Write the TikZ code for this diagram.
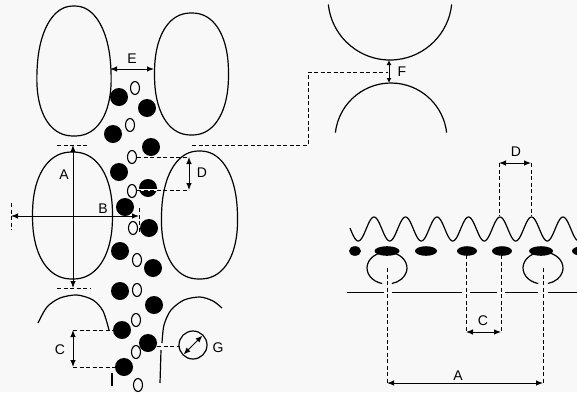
\documentclass[tikz,border=0pt]{standalone}
\usepackage{fontspec}
\setmainfont{Liberation Sans}
\usetikzlibrary{arrows.meta}
\definecolor{paper}{RGB}{248,248,248}
% closed cell outline: superellipse centred at (#1,#2), radii #3 and #4, widening #5 towards the bottom
\newcommand\cellblob[5]{%
  \draw[cell] plot[domain=0:360, samples=145, variable=\t]
    ({#1+#3*cos(\t)*(1+#5*sin(\t))/((abs(cos(\t))+0.0001)^2.25+(abs(sin(\t))+0.0001)^2.25)^(1/2.25)},
     {#2+#4*sin(\t)/((abs(cos(\t))+0.0001)^2.25+(abs(sin(\t))+0.0001)^2.25)^(1/2.25)}) -- cycle;}
\begin{document}
\begin{tikzpicture}[x=1pt,y=-1pt,
  cell/.style={line width=1.2pt, line join=round},
  guide/.style={line width=0.9pt, dash pattern=on 4pt off 2.5pt},
  dimarrow/.style={line width=1pt, {Latex[length=7pt,width=5.5pt]}-{Latex[length=7pt,width=5.5pt]}},
  smallarrow/.style={line width=1pt, {Latex[length=5pt,width=5pt]}-{Latex[length=5pt,width=5pt]}},
  lbl/.style={font=\fontsize{14}{14}\selectfont, inner sep=0pt},
  ring/.style={line width=1.1pt},
]
\fill[paper] (0,0) rectangle (577,392);
\useasboundingbox (0,0) rectangle (577,392);

% ---------- left panel: cells ----------
\cellblob{74}{71}{37}{65}{0.07}
\cellblob{191.5}{74}{37}{61}{0}
\cellblob{72.5}{215.5}{40}{63.5}{0}
\cellblob{199.5}{215}{38}{64}{0.04}
\draw[cell] plot[smooth] coordinates {(38,323) (47,307) (60,298) (77,295) (93,300) (103,311) (109,330)};
\draw[cell] (112,373) -- (112,386);
\draw[cell] plot[smooth] coordinates {(162,343) (164,325) (171,310) (184,300) (200,297) (213,301) (222,308)};
\draw[cell] (161,350) -- (160,383);

% ---------- left panel: particles in the channel ----------
\foreach \x/\y in {119/97, 147/108, 113/134, 151/147, 119/172, 148/188, 125/207, 149/228,
                   120/251, 153/268, 120/291, 154/305, 122/330, 148/343, 124/367}
  \fill (\x,\y) circle[radius=9];
\foreach \x/\y in {135/88, 130/125, 132/157, 132/191, 133/228, 137/260, 137/290, 136/320, 136/352, 138/385}
  \draw[ring] (\x,\y) ellipse[x radius=4.5, y radius=6.5];

% ---------- left panel: dimensions ----------
% A
\coordinate (aT) at (73,145); \coordinate (aB) at (73,288);
\draw[guide] (57,145) -- (88,145);
\draw[guide] (57,288) -- (90,288);
\draw[dimarrow] (aT) -- (aB);
\node[lbl] (la) at (64,175) {A};
% B
\coordinate (bL) at (11,216); \coordinate (bR) at (139,216);
\draw[guide] (11,203) -- (11,230);
\draw[guide] (139,208) -- (139,232);
\draw[dimarrow] (bL) -- (bR);
\node[lbl] (lb) at (103,209) {B};
% E
\coordinate (eL) at (110,69); \coordinate (eR) at (154,69);
\draw[dimarrow] (eL) -- (eR);
\node[lbl] (le) at (132,59) {E};
% D
\coordinate (dT) at (189,157); \coordinate (dB) at (189,190);
\draw[guide] (137,157) -- (dT);
\draw[white, line width=2.2pt] (139,190) -- (157,190);
\draw[guide] (137,190) -- (dB);
\draw[dimarrow] (dT) -- (dB);
\node[lbl] (ld) at (202,173) {D};
% C
\coordinate (cT) at (73,330); \coordinate (cB) at (73,367);
\draw[guide] (cT) -- (113,330);
\draw[guide] (cB) -- (115,367);
\draw[dimarrow] (cT) -- (cB);
\node[lbl] (lc) at (60,350) {C};
% G
\coordinate (g) at (193,345);
\draw[guide] (157,346) -- (179,346);
\draw[cell] (g) circle[radius=14];
\draw[dimarrow] (183.5,354.5) -- (202.5,335.5);
\node[lbl] (lg) at (218,348) {G};

% ---------- upper right: contact gap F ----------
\draw[cell] (390,-2) ++(174:62) arc[start angle=174, end angle=6, radius=62];
\draw[cell] (391,139) ++(186.5:56) arc[start angle=186.5, end angle=353.5, radius=56];
\coordinate (fT) at (389,60); \coordinate (fB) at (389,83);
\draw[guide] (192,145) -- (308,145) -- (308,72) -- (388,72);
\draw[smallarrow] (fT) -- (fB);
\node[lbl] (lf) at (402,72) {F};

% ---------- right panel: section ----------
\draw[cell] plot[domain=350:577, samples=240, smooth] (\x, {229-12*cos(11.4286*(\x-500))});
\draw[cell] (387,268) ++(104:20 and 16) arc[start angle=104, end angle=436, x radius=20, y radius=16];
\draw[cell] (543,268) ++(104:20 and 16) arc[start angle=104, end angle=436, x radius=20, y radius=16];
\foreach \x/\r in {355/6, 387/12.5, 426/11, 467/10, 502/10, 541/12, 582/10}
  \fill (\x,251) ellipse[x radius=\r, y radius=4.8];
\foreach \a/\b in {347/384, 392/462, 470/497, 505/538, 548/577}
  \draw[line width=1pt] (\a,292) -- (\b,292);

% D (right)
\coordinate (rdL) at (499,163); \coordinate (rdR) at (531,163);
\draw[guide] (rdL) -- (499,216);
\draw[guide] (rdR) -- (531,216);
\draw[dimarrow] (rdL) -- (rdR);
\node[lbl] (lrd) at (516,152) {D};
% C (right)
\coordinate (rcL) at (466,332); \coordinate (rcR) at (501,332);
\draw[guide] (466,255) -- (rcL);
\draw[guide] (501,255) -- (rcR);
\draw[dimarrow] (rcL) -- (rcR);
\node[lbl] (lrc) at (483,321) {C};
% A (right)
\coordinate (raL) at (387,383); \coordinate (raR) at (543,383);
\draw[guide] (387,268) -- (raL);
\draw[guide] (543,268) -- (raR);
\draw[dimarrow] (raL) -- (raR);
\node[lbl] (lra) at (458,376) {A};
\end{tikzpicture}
\end{document}
